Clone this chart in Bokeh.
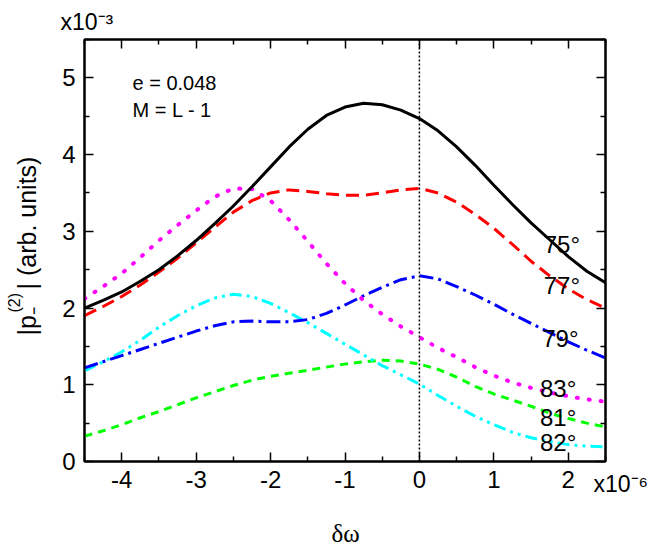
import math
from bokeh.plotting import figure
from bokeh.models import (ColumnDataSource, FixedTicker, LinearAxis, Label, Span, Range1d)
from bokeh.core.properties import value
from bokeh.embed import file_html
from bokeh.resources import INLINE

# detuning (units of 1e-6)
d_omega = [-4.5, -4.25, -4.0, -3.75, -3.5, -3.25, -3.0, -2.75, -2.5, -2.25, -2.0, -1.75,
           -1.5, -1.25, -1.0, -0.75, -0.5, -0.25, 0.0, 0.25, 0.5, 0.75, 1.0, 1.25, 1.5,
           1.75, 2.0, 2.25, 2.5]

# |p_-^(2)| (units of 1e-3) for each polar angle
p_75 = [2.00, 2.10, 2.21, 2.35, 2.50, 2.68, 2.88, 3.10, 3.33, 3.58, 3.84, 4.10, 4.33, 4.51,
        4.62, 4.67, 4.65, 4.58, 4.47, 4.31, 4.10, 3.86, 3.60, 3.35, 3.11, 2.89, 2.67, 2.48, 2.33]
p_77 = [1.90, 2.02, 2.15, 2.30, 2.47, 2.65, 2.85, 3.05, 3.25, 3.40, 3.50, 3.54, 3.52, 3.49,
        3.47, 3.47, 3.50, 3.54, 3.56, 3.50, 3.38, 3.22, 3.04, 2.83, 2.61, 2.42, 2.25, 2.11, 2.00]
p_79 = [1.22, 1.30, 1.38, 1.46, 1.54, 1.62, 1.70, 1.77, 1.82, 1.83, 1.82, 1.82, 1.85, 1.93,
        2.04, 2.16, 2.27, 2.37, 2.42, 2.38, 2.28, 2.17, 2.05, 1.92, 1.80, 1.68, 1.56, 1.45, 1.35]
p_81 = [0.33, 0.40, 0.48, 0.57, 0.65, 0.74, 0.83, 0.91, 0.99, 1.06, 1.11, 1.15, 1.19, 1.23,
        1.27, 1.30, 1.32, 1.31, 1.27, 1.20, 1.10, 0.98, 0.88, 0.80, 0.72, 0.63, 0.56, 0.50, 0.45]
p_82 = [1.18, 1.30, 1.43, 1.58, 1.75, 1.90, 2.03, 2.13, 2.18, 2.15, 2.06, 1.94, 1.81, 1.67,
        1.53, 1.39, 1.25, 1.13, 1.01, 0.86, 0.72, 0.59, 0.48, 0.38, 0.31, 0.26, 0.22, 0.20, 0.19]
p_83 = [2.12, 2.28, 2.45, 2.66, 2.88, 3.08, 3.27, 3.45, 3.56, 3.55, 3.40, 3.15, 2.87, 2.58,
        2.32, 2.10, 1.92, 1.76, 1.62, 1.48, 1.36, 1.23, 1.12, 1.03, 0.96, 0.90, 0.85, 0.81, 0.78]

angle_labels = ["75°", "77°", "79°", "83°", "81°", "82°"]
angle_label_x = [1.67, 1.67, 1.65, 1.62, 1.62, 1.62]
angle_label_y = [2.83, 2.29, 1.60, 0.95, 0.57, 0.25]

x_major = [-4, -3, -2, -1, 0, 1, 2]
x_minor = [-4.5, -3.5, -2.5, -1.5, -0.5, 0.5, 1.5, 2.5]
y_major = [0, 1, 2, 3, 4, 5]
y_minor = [0.5, 1.5, 2.5, 3.5, 4.5, 5.5]

X0, X1 = -4.5, 2.5
Y0, Y1 = 0.0, 5.5
FL, FR, FT, FB = 84, 605, 39, 461  # frame edges in canvas pixels
W, H = 648, 548

SANS = "Liberation Sans"
SERIF = "Liberation Serif"


def sx(px):
    return X0 + (px - FL) / (FR - FL) * (X1 - X0)


def sy(py):
    return Y0 + (FB - py) / (FB - FT) * (Y1 - Y0)


p = figure(frame_width=FR - FL, frame_height=FB - FT,
           x_range=Range1d(X0, X1), y_range=Range1d(Y0, Y1),
           output_backend="svg", toolbar_location=None,
           x_axis_location=None, y_axis_location=None)
p.min_border_left = FL
p.min_border_right = W - FR
p.min_border_top = FT
p.min_border_bottom = H - FB
p.xgrid.visible = False
p.ygrid.visible = False
p.outline_line_color = "black"
p.outline_line_width = 2
p.background_fill_color = "white"
p.border_fill_color = "white"


def make_axis(ticks, minor, show_labels):
    ax = LinearAxis(ticker=FixedTicker(ticks=ticks, minor_ticks=minor))
    ax.axis_line_color = "black"
    ax.axis_line_width = 2
    ax.major_tick_line_color = "black"
    ax.major_tick_line_width = 1.5
    ax.minor_tick_line_color = "black"
    ax.minor_tick_line_width = 1.5
    ax.major_tick_in = 9
    ax.major_tick_out = 0
    ax.minor_tick_in = 5
    ax.minor_tick_out = 0
    ax.major_label_text_font = SANS
    if show_labels:
        ax.major_label_text_font_size = "24px"
        ax.major_label_text_color = "black"
        ax.major_label_standoff = 9
        ax.major_label_overrides = {t: str(t) for t in ticks}
    else:
        ax.major_label_text_font_size = "0px"
        ax.major_label_text_color = None
        ax.major_label_standoff = 0
    return ax


p.add_layout(make_axis(x_major, x_minor, True), "below")
p.add_layout(make_axis(x_major, x_minor, False), "above")
p.add_layout(make_axis(y_major, y_minor, True), "left")
p.add_layout(make_axis(y_major, y_minor, False), "right")

p.add_layout(Span(location=0, dimension="height", line_color="black",
                  line_width=1.5, line_dash="2 2"))

src = ColumnDataSource(dict(x=d_omega, p75=p_75, p77=p_77, p79=p_79,
                            p81=p_81, p82=p_82, p83=p_83))

p.line("x", "p81", source=src, line_color="#00ff00", line_width=3, line_dash="8 6")
p.line("x", "p82", source=src, line_color="#00ffff", line_width=3, line_dash="12 5 3 5 3 5")
p.line("x", "p79", source=src, line_color="#0000ff", line_width=3, line_dash="14 5 3 5")
p.line("x", "p83", source=src, line_color="#ff00ff", line_width=4, line_dash="1 11",
       line_cap="round")
p.line("x", "p77", source=src, line_color="#ff0000", line_width=3, line_dash="13 7")
p.line("x", "p75", source=src, line_color="black", line_width=3)

lab_src = ColumnDataSource(dict(x=angle_label_x, y=angle_label_y, text=angle_labels))
p.text("x", "y", text="text", source=lab_src, text_font=value(SANS),
       text_font_size="24px", text_color="black", text_align="left",
       text_baseline="middle")


def add_text(px, py, txt, size, side="center", font=SANS, align="left", angle=0.0):
    # px, py: canvas pixels from the top-left of the glyph baseline start;
    # labels outside the frame live in a side panel so they are not clipped
    fs = float(size.replace("px", ""))
    lift = 0.3 * fs
    if angle == 0.0:
        py -= lift
    else:
        px -= lift
    lab = Label(x=sx(px), y=sy(py), text=txt, text_font=font,
                text_font_size=size, text_color="black", text_align=align,
                text_baseline="alphabetic", angle=angle)
    p.add_layout(lab, side)


# parameter annotations
add_text(132, 88, "e = 0.048", "20px")
add_text(132, 115, "M = L - 1", "20px")

# axis multipliers
add_text(60, 28, "x10⁻³", "23px", side="above")
add_text(593, 490, "x10⁻⁶", "23px", side="right")

# x axis title
add_text(345, 540, "δω", "25px", side="below", font=SERIF, align="center")

# y axis title, rotated
rot = math.pi / 2
add_text(34, 335, "|p₋", "25px", side="left", angle=rot)
add_text(19, 312, "(2)", "16px", side="below", angle=rot)
add_text(34, 289, "| (arb. units)", "25px", side="left", angle=rot)

open("out.html", "w").write(file_html(p, INLINE))
